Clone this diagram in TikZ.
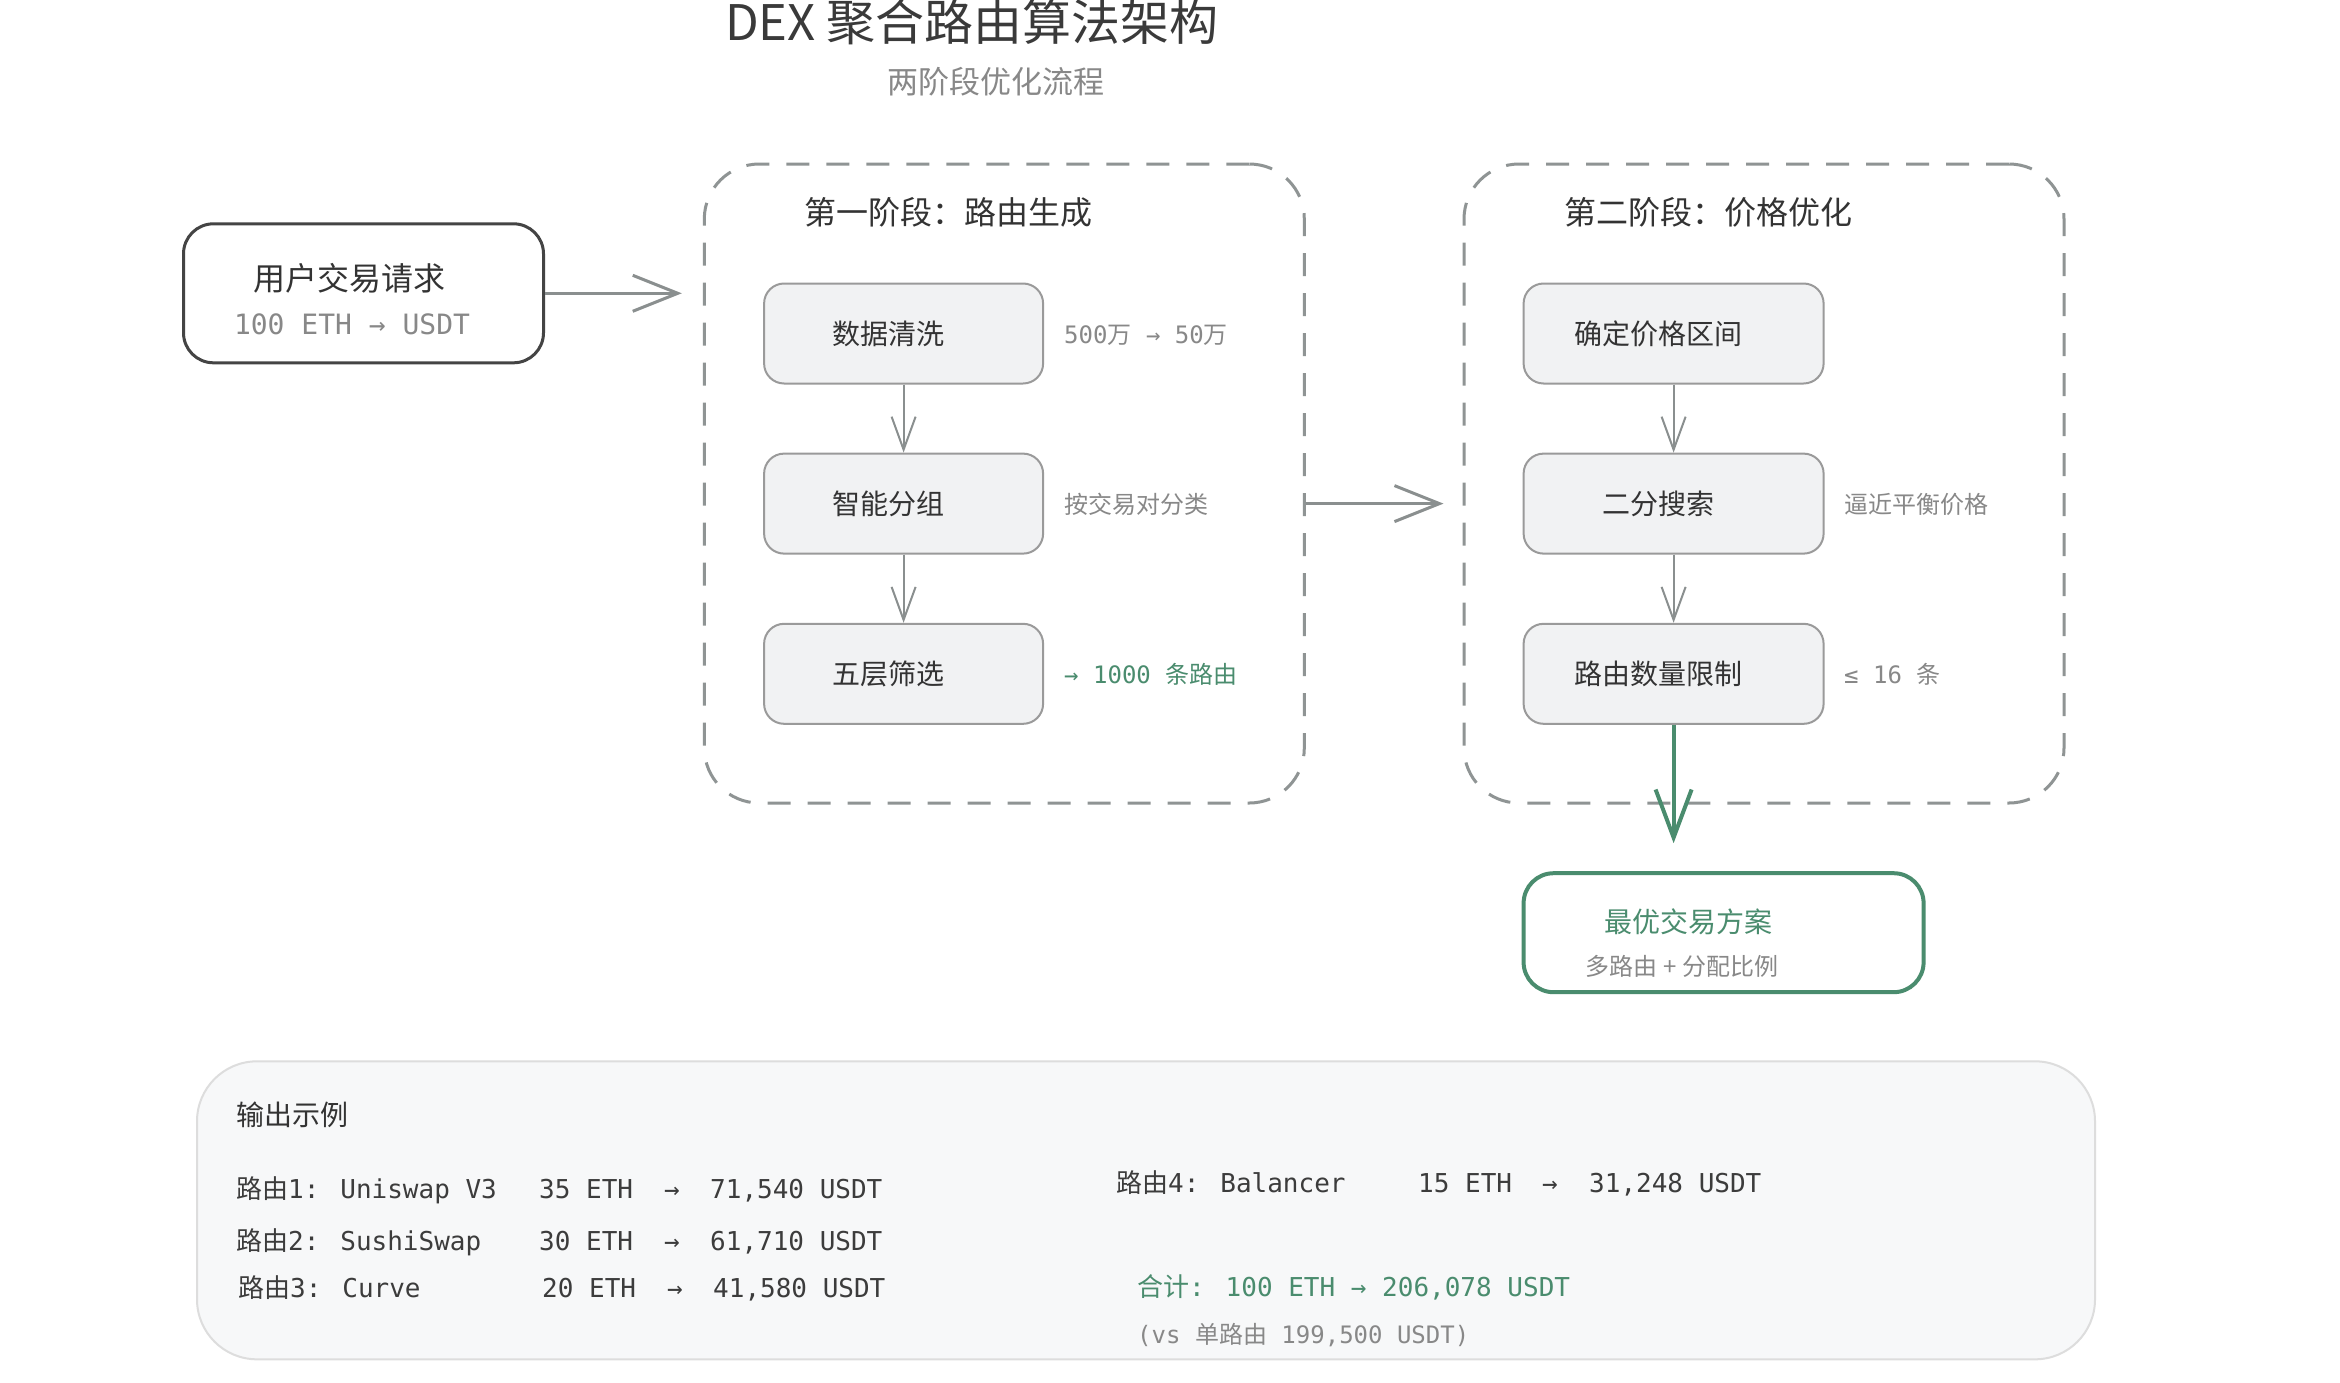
\documentclass[tikz,border=0pt]{standalone}
\usepackage{fontspec}
\setmainfont{Noto Sans CJK SC}
\newfontfamily\monof{DejaVu Sans Mono}
\newfontfamily\cjkf{Noto Sans CJK SC}
\usetikzlibrary{arrows.meta}
\definecolor{ink}{HTML}{333333}
\definecolor{rowink}{HTML}{3C3C3C}
\definecolor{titleink}{HTML}{3A3A3A}
\definecolor{mute}{HTML}{888888}
\definecolor{grn}{HTML}{4A8C6E}
\definecolor{stepfill}{HTML}{F1F2F3}
\definecolor{stepline}{HTML}{9A9A9A}
\definecolor{phaseline}{HTML}{8F9494}
\definecolor{arrline}{HTML}{8A8F8F}
\definecolor{panelfill}{HTML}{F7F8F9}
\definecolor{panelline}{HTML}{DDDDDD}
\definecolor{userline}{HTML}{444444}
\newcommand\fs[1]{\fontsize{#1pt}{#1pt}\selectfont}
\newcommand\mo[1]{{\monof #1}}
\newcommand\cj[1]{{\cjkf #1}}
\tikzset{
  txt/.style={inner sep=0pt, anchor=base},
  ltxt/.style={inner sep=0pt, anchor=base west},
  userbox/.style={draw=userline, line width=3pt, rounded corners=30pt, fill=white,
    minimum width=360pt, minimum height=139pt},
  phasebox/.style={draw=phaseline, line width=3pt, dash pattern=on 23pt off 17pt,
    rounded corners=55pt, minimum width=600pt, minimum height=639pt},
  stepbox/.style={draw=stepline, fill=stepfill, line width=2pt, rounded corners=20pt,
    minimum height=100pt},
  finalbox/.style={draw=grn, line width=4pt, rounded corners=30pt, fill=white,
    minimum width=400pt, minimum height=119pt},
  panel/.style={draw=panelline, fill=panelfill, line width=2pt, rounded corners=60pt,
    minimum width=1898pt, minimum height=298pt},
  steptxt/.style={txt, font=\fs{28}, text=ink},
  note/.style={ltxt, font=\fs{24}, text=mute},
  rowtxt/.style={ltxt, font={\monof\fs{26}}, text=rowink},
  thinarr/.style={draw=arrline, line width=2pt, -{Straight Barb[length=33pt,width=24pt]}},
  bigarr/.style={draw=arrline, line width=3pt, -{Straight Barb[length=45pt,width=36pt]}},
  grnarr/.style={draw=grn, line width=4pt, -{Straight Barb[length=48pt,width=36pt]}}
}
\begin{document}
\begin{tikzpicture}[x=1pt,y=-1pt]
\useasboundingbox[fill=white] (0,0) rectangle (2340,1382);

% titles
\node[txt, font=\fs{49}, text=titleink] (title) at (972,40) {DEX 聚合路由算法架构};
\node[txt, font=\fs{31}, text=mute] (sub) at (996,93.5) {两阶段优化流程};

% user request
\node[userbox] (u) at (363.5,293.3) {};
\node[txt, font=\fs{32}, text=ink] (ut) at (349,290) {用户交易请求};
\node[txt, font={\monof\fs{28}}, text=mute] (ud) at (352,334) {100 ETH → USDT};

% phases
\node[phasebox] (p1) at (1004.3,483.5) {};
\node[phasebox] (p2) at (1764,483.5) {};
\node[ltxt, font=\fs{32}, text=ink] (p1t) at (804,224) {第一阶段：路由生成};
\node[ltxt, font=\fs{32}, text=ink] (p2t) at (1564,224) {第二阶段：价格优化};

% phase 1 steps
\node[stepbox, minimum width=279pt] (a1) at (903.6,333.5) {};
\node[stepbox, minimum width=279pt] (a2) at (903.6,503.6) {};
\node[stepbox, minimum width=279pt] (a3) at (903.6,673.8) {};
\node[steptxt] (a1t) at (888.6,344) {数据清洗};
\node[steptxt] (a2t) at (888.6,514) {智能分组};
\node[steptxt] (a3t) at (888.6,684) {五层筛选};
\node[note] (a1n) at (1064,343) {\mo{500}万\mo{ → 50}万};
\node[note] (a2n) at (1064,513) {按交易对分类};
\node[note, text=grn] (a3n) at (1064,683) {\mo{→ 1000 }条路由};

% phase 2 steps
\node[stepbox, minimum width=300pt] (b1) at (1673.6,333.5) {};
\node[stepbox, minimum width=300pt] (b2) at (1673.6,503.6) {};
\node[stepbox, minimum width=300pt] (b3) at (1673.6,673.8) {};
\node[steptxt] (b1t) at (1658.6,344) {确定价格区间};
\node[steptxt] (b2t) at (1658.6,514) {二分搜索};
\node[steptxt] (b3t) at (1658.6,684) {路由数量限制};
\node[note] (b2n) at (1844,513) {逼近平衡价格};
\node[note] (b3n) at (1844,683) {\mo{≤ 16 }条};

% final
\node[finalbox] (f) at (1723.6,932.7) {};
\node[txt, font=\fs{28}, text=grn] (ft) at (1688,932) {最优交易方案};
\node[txt, font=\fs{24}, text=mute] (fd) at (1682,975) {多路由 + 分配比例};

% connectors
\draw[thinarr] (a1) -- (a2);
\draw[thinarr] (a2) -- (a3);
\draw[thinarr] (b1) -- (b2);
\draw[thinarr] (b2) -- (b3);
\draw[bigarr, shorten >=21pt] (u.east) -- (u.east -| p1.west);
\draw[bigarr, shorten >=19pt] (a2.center -| p1.east) -- (a2.center -| p2.west);
\draw[grnarr, shorten >=28pt] (b3.south) -- (b3.south |- f.north);

% output example panel
\node[panel] (ex) at (1146,1210.3) {};
\node[ltxt, font=\fs{28}, text=ink] (ext) at (236,1125) {输出示例};

\node[rowtxt] (r1n) at (236,1198) {\cj{路由}1: Uniswap V3};
\node[rowtxt] (r1a) at (539,1198) {35 ETH};
\node[rowtxt, anchor=base] (r1r) at (672,1198) {→};
\node[rowtxt] (r1v) at (710,1198) {71,540 USDT};

\node[rowtxt] (r2n) at (236,1250) {\cj{路由}2: SushiSwap};
\node[rowtxt] (r2a) at (539,1250) {30 ETH};
\node[rowtxt, anchor=base] (r2r) at (672,1250) {→};
\node[rowtxt] (r2v) at (710,1250) {61,710 USDT};

\node[rowtxt] (r3n) at (238,1297) {\cj{路由}3: Curve};
\node[rowtxt] (r3a) at (542,1297) {20 ETH};
\node[rowtxt, anchor=base] (r3r) at (675,1297) {→};
\node[rowtxt] (r3v) at (713,1297) {41,580 USDT};

\node[rowtxt] (r4n) at (1116,1192) {\cj{路由}4: Balancer};
\node[rowtxt] (r4a) at (1418,1192) {15 ETH};
\node[rowtxt, anchor=base] (r4r) at (1550,1192) {→};
\node[rowtxt] (r4v) at (1589,1192) {31,248 USDT};

\node[rowtxt, text=grn] (sum) at (1137,1296) {\cj{合计}: 100 ETH → 206,078 USDT};
\node[rowtxt, font={\monof\fs{24}}, text=mute] (vs) at (1137,1343) {(vs \cj{单路由} 199,500 USDT)};
\end{tikzpicture}
\end{document}
